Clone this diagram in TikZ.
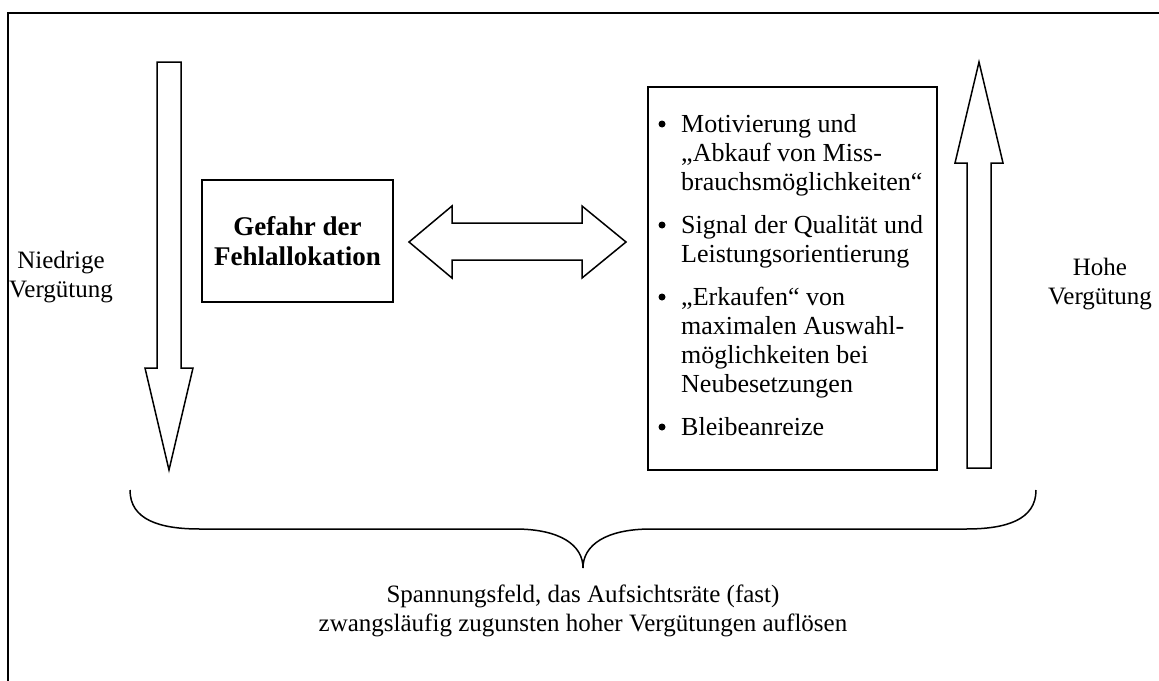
\documentclass[tikz,border=0pt]{standalone}
\usepackage{fontspec}
\setmainfont{Liberation Serif}
\begin{document}
\begin{tikzpicture}[x=1pt,y=-1pt,
  txt/.style={font=\fontsize{25}{29}\selectfont, inner sep=0pt, align=center},
  itemtxt/.style={font=\fontsize{26}{29}\selectfont, inner sep=0pt, anchor=base west, align=left},
  bul/.style={circle, fill=black, inner sep=0pt, minimum size=7pt},
  blk/.style={draw=black, fill=white, line width=1.5pt, line join=miter}]
\useasboundingbox (0,0) rectangle (1159,680);
\fill[white] (0,0) rectangle (1159,680);
\draw[line width=2pt] (8,690) -- (8,13) -- (1169,13);

% left arrow (down)
\draw[blk] (157,62) -- (181,62) -- (181,368) -- (193,368) -- (169,470) -- (145,368) -- (157,368) -- cycle;
% right arrow (up)
\draw[blk] (967,468) -- (967,163) -- (955,163) -- (979,62) -- (1003,163) -- (991,163) -- (991,468) -- cycle;

% box Gefahr
\node[blk, minimum width=191pt, minimum height=122pt, inner sep=0pt] (gef) at (297.5,241) {};
\node[txt, font=\fontsize{27}{30}\selectfont\bfseries] (geftxt) at (gef.center) {Gefahr der\\Fehlallokation};

% double arrow
\draw[blk] (409,242) -- (452,206) -- (452,223) -- (582,223) -- (582,206) -- (626,242) -- (582,278) -- (582,260) -- (452,260) -- (452,278) -- cycle;

% list box
\node[blk, minimum width=289pt, minimum height=383pt, inner sep=0pt, anchor=north west] (list) at (647,86) {};
\node[bul] (b1) at (662,124) {};
\node[itemtxt] (i1) at (681,190) {Motivierung und\\„Abkauf von Miss-\\brauchsmöglichkeiten“};
\node[bul] (b2) at (662,225) {};
\node[itemtxt] (i2) at (681,262) {Signal der Qualität und\\Leistungsorientierung};
\node[bul] (b3) at (662,297) {};
\node[itemtxt] (i3) at (681,392) {„Erkaufen“ von\\maximalen Auswahl-\\möglichkeiten bei\\Neubesetzungen};
\node[bul] (b4) at (662,427) {};
\node[itemtxt] (i4) at (681,435) {Bleibeanreize};

% side labels
\node[txt] (low) at (61,277) {Niedrige\\Vergütung};
\node[txt] (high) at (1100,284) {Hohe\\Vergütung};

% brace
\draw[line width=1.5pt] (130,490) .. controls (130,520) and (160,529) .. (200,529) -- (515,529)
  .. controls (560,529) and (583,545) .. (583,568)
  .. controls (583,545) and (606,529) .. (651,529) -- (966,529)
  .. controls (1006,529) and (1036,520) .. (1036,490);
\coordinate (bracetip) at (583,568);

\node[txt, anchor=north] (bottom) at (583,585) {Spannungsfeld, das Aufsichtsräte (fast)\\zwangsläufig zugunsten hoher Vergütungen auflösen};
\end{tikzpicture}
\end{document}
